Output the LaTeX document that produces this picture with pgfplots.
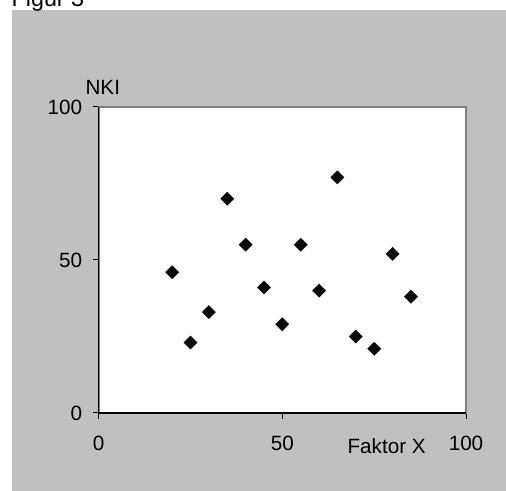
\documentclass[border=0pt]{standalone}
\usepackage{fontspec}
\setmainfont{Liberation Sans}
\usepackage{pgfplots}
\pgfplotsset{compat=1.18}
\definecolor{bg}{HTML}{C0C0C0}
\definecolor{frame}{HTML}{808080}
\definecolor{mk}{HTML}{0A0A0A}

\begin{document}
\begin{tikzpicture}
% 1 px of the reference = 0.75pt
\useasboundingbox (-74pt,-58.5pt) rectangle (305.5pt,309.75pt);
\fill[bg] (-65pt,-58.5pt) rectangle (305.5pt,302.6pt);
\node[anchor=base west, inner sep=0pt, font=\fontsize{17.5}{20}\selectfont] at (-65.5pt,304.9pt) {Figur 3};
\begin{axis}[
  name=ax,
  at={(0,0)}, anchor=south west,
  scale only axis,
  width=275.5pt, height=229.5pt,
  xmin=0, xmax=100, ymin=0, ymax=100,
  xtick={0,50,100}, ytick={0,50,100},
  tick align=outside,
  xtick pos=left, ytick pos=left,
  major tick length=4.5pt,
  tick style={black, line width=0.75pt},
  axis background/.style={fill=white},
  axis line style={draw=frame, line width=1.5pt},
  font=\fontsize{15.5}{18}\selectfont,
  /pgf/number format/assume math mode=true,
  xticklabel style={anchor=base, yshift=-23.8pt},
  yticklabel style={anchor=east, inner sep=0pt, xshift=-7.7pt},
  every axis x label/.style={at={(axis description cs:0.784,0)}, anchor=base, yshift=-30.2pt},
  every axis y label/.style={at={(axis description cs:0,1)}, anchor=base, xshift=3.1pt, yshift=9pt},
  xlabel={Faktor X},
  ylabel={NKI},
  clip=false,
]
\addplot[only marks, mark=square*, mark size=3.5pt,
  mark options={rotate=45, fill=mk, draw=mk, line width=0.3pt}]
  coordinates {
  (20,46) (25,23) (30,33) (35,70) (40,55) (45,41) (50,29)
  (55,55) (60,40) (65,77) (70,25) (75,21) (80,52) (85,38)
  };
\end{axis}
\draw[black, line width=1pt] (ax.north west) -- (ax.south west) -- (ax.south east);
\end{tikzpicture}
\end{document}
